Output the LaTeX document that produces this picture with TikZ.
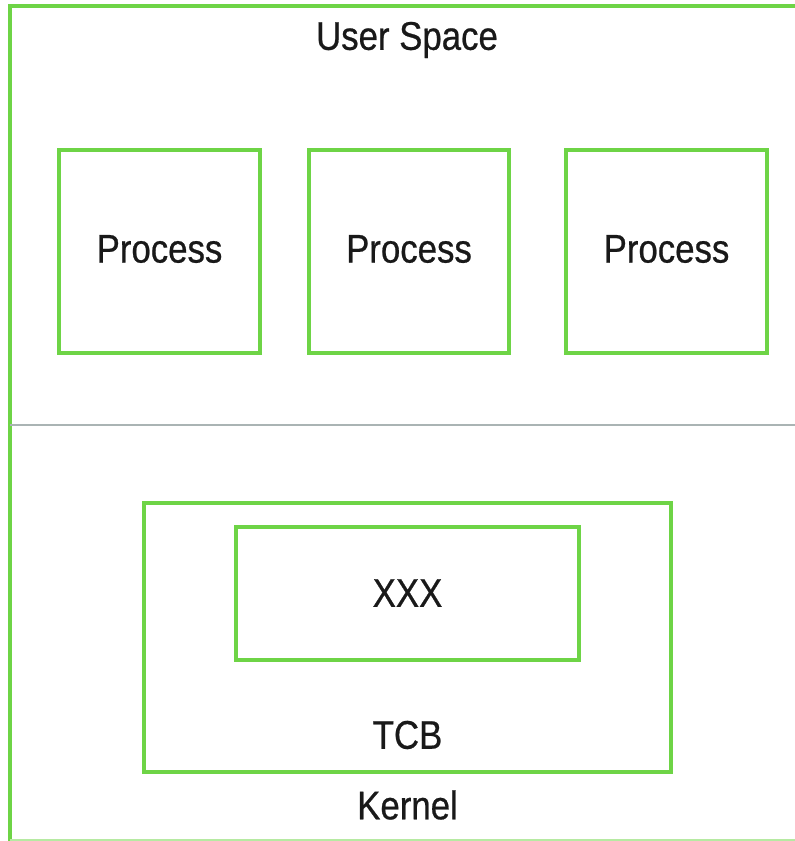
\documentclass[tikz,border=0pt]{standalone}
\usepackage{fontspec}
\setmainfont[FakeStretch=0.87,FakeBold=0.6]{Liberation Sans}
\definecolor{boxgreen}{RGB}{110,212,70}
\definecolor{divgray}{RGB}{170,180,180}
\begin{document}
\begin{tikzpicture}[x=1pt,y=-1pt,
  box/.style={draw=boxgreen,line width=3.4pt,fill=none},
  lbl/.style={font=\fontsize{40}{44}\selectfont,text=black!90,inner sep=0pt}]
\useasboundingbox (0,0) rectangle (795,841);
% outer frame
\draw[draw=boxgreen,line width=3.6pt] (10,841) -- (10,6) -- (795,6);
\draw[draw=boxgreen!50,line width=2.4pt] (10,840) -- (795,840);
% divider
\draw[draw=divgray,line width=2.8pt] (10,425) -- (795,425);
% process boxes
\draw[box] (59,150) rectangle (260,353);
\draw[box] (309,150) rectangle (509,353);
\draw[box] (566,150) rectangle (767,353);
\node[lbl] (us) at (407,40) {User Space};
\node[lbl] (p1) at (159.5,249) {Process};
\node[lbl] (p2) at (409,249) {Process};
\node[lbl] (p3) at (666.5,249) {Process};
% kernel
\draw[box] (144,503) rectangle (671,772);
\draw[box] (236,527) rectangle (579,660);
\node[lbl] (xxx) at (407.5,593) {XXX};
\node[lbl] (tcb) at (407.5,735) {TCB};
\node[lbl] (k) at (407.5,805) {Kernel};
\end{tikzpicture}
\end{document}
